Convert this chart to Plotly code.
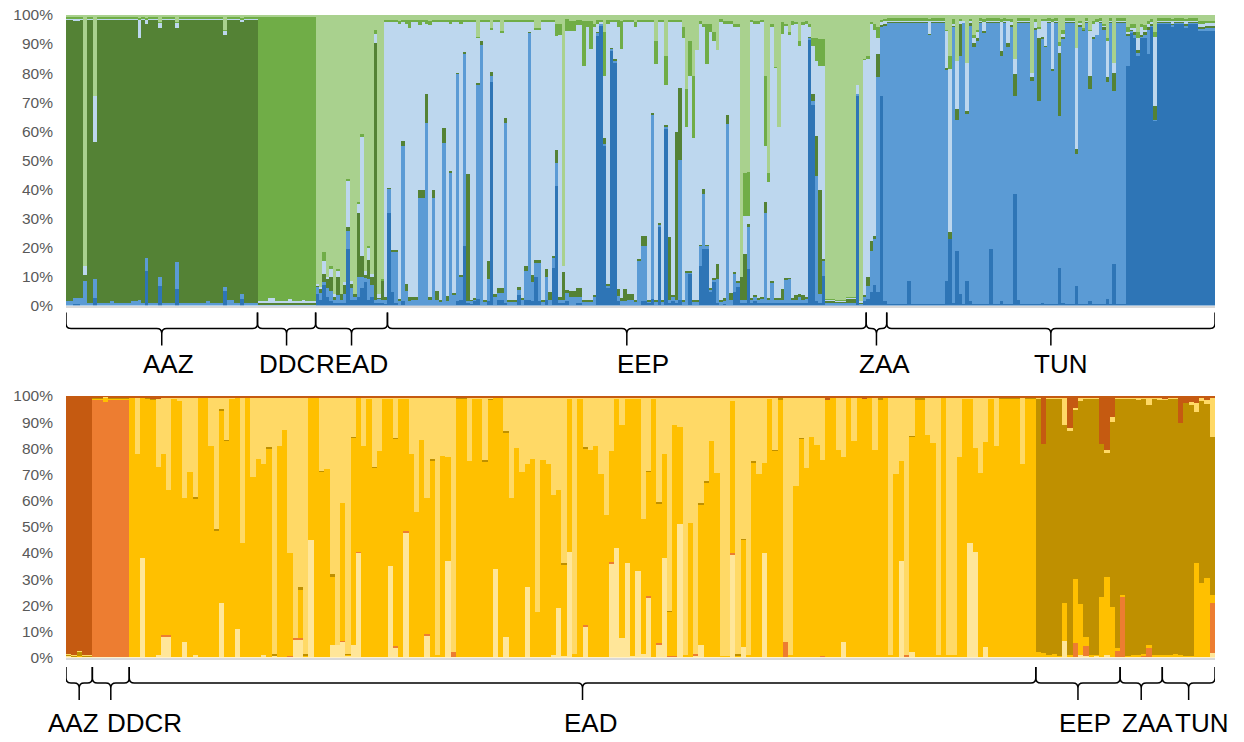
import plotly.graph_objects as go

W, H = 1244, 742
# The page is photographed with an 8 px top offset and ~726 px of usable height;
# vertical placements below are given in target screen pixels and converted with these.
Y_OFF, H_EFF = 8.0, 726.0

# ---------------- colours (bottom band -> top band) ----------------
TOP_COLORS = ["#2E75B6", "#5B9BD5", "#548235", "#BDD7EE", "#70AD47", "#A9D18E"]
BOTTOM_COLORS = ["#FFE699", "#ED7D31", "#FFC000", "#BF9000", "#FFD966", "#C55A11"]
TOP_NAMES = ["K1", "K2", "K3", "K4", "K5", "K6"]
BOTTOM_NAMES = ["K1", "K2", "K3", "K4", "K5", "K6"]

top_groups = ["AAZ", "DDC", "READ", "EEP", "ZAA", "TUN"]
bottom_groups = ["AAZ", "DDCR", "EAD", "EEP", "ZAA", "TUN"]

y_ticks = [0, 10, 20, 30, 40, 50, 60, 70, 80, 90, 100]
y_tick_text = ["0%", "10%", "20%", "30%", "40%", "50%", "60%", "70%", "80%", "90%", "100%"]

# Each row: [number of consecutive individuals, upper edge (%) of bands 1..5]; band 6 reaches 100 %.
# ---------------- top panel ----------------
top_AAZ = [
    [1, 0, 1.5, 98.3, 98.8, 99.3], [1, 0, 1.5, 98.3, 98.8, 99.3], [2, 0.5, 2.5, 98, 98.8, 99.3],
    [1, 0, 2.5, 98.3, 98.8, 99.3], [1, 0, 8.6, 10.5, 13.7, 13.7], [2, 0, 0.8, 98.3, 98.8, 99.3],
    [1, 2.5, 9, 56.4, 72.2, 72.2], [4, 0, 0.8, 98.3, 98.8, 99.3], [1, 0, 1.5, 98.3, 98.8, 99.3],
    [5, 0, 0.8, 98.3, 98.8, 99.3], [2, 0, 1.5, 98.3, 98.8, 99.3], [1, 0, 2, 92, 98.5, 99],
    [1, 0, 0.8, 98.3, 98.8, 99.3], [1, 12, 16.4, 97, 98.5, 99], [3, 0, 0.8, 98.3, 98.8, 99.3],
    [1, 6.9, 9.7, 95.6, 97.4, 97.6], [4, 0, 0.8, 98.3, 98.8, 99.3], [1, 5.7, 14.9, 95.6, 97.5, 97.7],
    [8, 0, 0.8, 98.3, 98.8, 99.3], [1, 0, 1.5, 98.3, 98.8, 99.3], [4, 0, 0.8, 98.3, 98.8, 99.3],
    [1, 5, 6.5, 93, 94.5, 94.7], [2, 0, 2, 98.3, 98.8, 99.3], [2, 0, 0.8, 98.3, 98.8, 99.3],
    [1, 2.3, 4, 97.5, 98.5, 99], [4, 0, 0.8, 98.3, 98.8, 99.3],
]
top_DDC = [
    [3, 0, 0.5, 0.8, 1.5, 99.3], [2, 0, 0.5, 0.8, 2.5, 99.5], [4, 0, 0.5, 0.8, 1.5, 99.3],
    [1, 0, 0.5, 1, 2.3, 99.2], [3, 0, 0.5, 0.8, 1.5, 99.4], [1, 0, 0.5, 0.8, 2, 99.3],
    [3, 0, 0.5, 0.8, 1.5, 99.3],
]
top_READ = [
    [1, 4, 6.5, 7, 7.5, 7.5], [1, 2, 4.5, 6, 6.5, 6.5], [1, 7, 8, 11, 15.5, 18.3],
    [1, 3, 6, 9, 10, 10], [1, 1.5, 5, 10, 12.5, 13.5], [1, 1, 2, 3, 4, 4],
    [1, 1, 3.5, 10, 12, 12.5], [1, 1, 2, 4, 4, 4], [1, 1, 4, 7, 8, 8],
    [1, 19.5, 25.8, 27, 43, 43.7], [1, 2, 6, 7.6, 8.5, 8.5], [1, 2, 3, 4, 4, 4],
    [1, 3, 10, 32, 35, 35.5], [1, 6, 10, 17, 58, 59], [1, 8, 9.5, 10.5, 12, 12],
    [1, 2, 9, 15.7, 20, 20.5], [1, 3, 7, 10, 11, 11], [1, 1, 2, 90.5, 93.5, 95],
    [1, 1, 2.3, 2.5, 4, 4], [1, 1, 2, 8.5, 8.5, 9.2], [1, 0.5, 2, 3, 97.5, 98.3],
]
top_EEP = [
    [1, 32, 40.3, 40.5, 97.5, 98.3], [1, 4.6, 18.6, 19, 97.5, 98.3], [1, 1, 18.6, 19.2, 97.5, 98.3],
    [1, 0.3, 1.5, 2.2, 97, 98], [1, 1.5, 55, 56.7, 97.5, 98.3], [1, 0.3, 5, 7.4, 97, 98.3],
    [1, 0.3, 1.5, 2.9, 95.5, 98.3], [2, 0.3, 2, 2.9, 97.5, 98.3], [1, 0.3, 37, 39.7, 96.5, 98.3],
    [1, 0.3, 37, 39.7, 97.5, 98.3], [1, 0.3, 63, 72.7, 97, 98.3], [1, 0.3, 2, 3, 96.5, 98],
    [1, 0.3, 37, 39.7, 97.5, 98.3], [1, 0.3, 2, 5, 97.5, 98.3], [1, 0.3, 1.5, 2, 97.5, 98.3],
    [1, 0.3, 56, 61, 97.5, 98.3], [1, 0.3, 1.5, 3.4, 97.5, 98.3], [1, 0.3, 45.8, 46.2, 97, 98.3],
    [1, 0.3, 3.5, 4.5, 97.5, 98.3], [1, 1.7, 79.8, 80.2, 97.5, 98.3], [1, 2, 10, 10.5, 97, 98.3],
    [1, 20.6, 86.5, 87.3, 97.5, 98.3], [1, 1, 1.7, 45.2, 97.5, 98.3], [1, 0.5, 1.7, 2, 97.5, 98.3],
    [1, 1.7, 2, 2.5, 97.5, 98.3], [1, 2.3, 76.2, 76.5, 92.2, 92.5], [1, 0.3, 89.6, 91, 97.5, 98.3],
    [1, 0.3, 1.5, 2, 97.5, 98.3], [1, 1.5, 9, 15.5, 97.5, 98.3], [1, 77, 79, 80.5, 94.8, 95.5],
    [1, 0.3, 3, 4, 97.5, 98.3], [1, 2, 4.5, 6, 97.5, 98.3], [1, 2, 4.5, 6, 94, 94.5],
    [1, 1, 63, 64.5, 97.5, 98.3], [3, 0.3, 1.5, 2, 97.5, 98.3], [1, 3.7, 5.5, 6.5, 97.5, 98.3],
    [1, 0.3, 2, 2.5, 97.5, 98.3], [1, 2, 11.8, 13.7, 97.5, 98.3], [1, 2, 94, 94.3, 97.5, 98.3],
    [1, 1.7, 8, 10.5, 97.5, 98.3], [1, 9.7, 14.5, 15.8, 95, 95.5], [1, 1.7, 14.5, 15.8, 95, 95.5],
    [1, 0.3, 1.5, 2, 97.5, 98.3], [1, 2, 9.7, 12.6, 97.5, 98.3], [1, 0.3, 2, 4.6, 97.5, 98.3],
    [1, 13, 16.6, 17, 97.5, 98.3], [1, 41.2, 49, 53.6, 92.8, 96.8], [1, 1, 2, 3, 93, 96.8],
    [1, 1, 2, 11.5, 13.7, 13.7], [1, 1.5, 4.6, 5.2, 94.5, 98.5], [2, 0.3, 3, 5, 94.5, 98],
    [2, 1, 3, 6, 96.5, 98.3], [1, 0.3, 1.5, 2, 82.5, 98], [1, 0.3, 1.5, 2, 96, 98],
    [1, 0.3, 1.5, 2, 88.2, 98], [1, 0.3, 3, 3.5, 96, 97], [1, 92.8, 94, 94.3, 97, 98.3],
    [1, 96.3, 97, 97.2, 97.5, 98.3], [1, 55, 55.5, 57.8, 79, 94], [1, 6, 7, 7.5, 97, 98.3],
    [1, 87.6, 88.4, 88.8, 97.5, 98.3], [1, 83.4, 84.5, 84.8, 97.5, 98.3], [1, 1.5, 3.4, 5.7, 96, 98.3],
    [1, 0.3, 1.5, 2.5, 88.4, 98], [1, 0.3, 1.5, 5.7, 97.5, 98.3], [2, 0.3, 2, 4, 97.5, 98.3],
    [1, 0.3, 1.5, 2, 96, 97.5], [1, 0.3, 15.5, 16, 97.5, 98.3], [2, 1.5, 20.6, 24, 97.5, 98.3],
    [1, 1, 1.5, 2, 97.5, 98.3], [1, 2.3, 65.9, 66.3, 97.5, 98.3], [1, 0.3, 1.5, 2, 83, 91],
    [1, 27, 28, 28.5, 97.5, 98.3], [1, 0.3, 1.5, 2, 97.5, 98.3], [1, 60.7, 61.5, 62, 76, 86],
    [1, 1, 2, 23.5, 97.5, 98.3], [1, 1.5, 3, 3.5, 97.5, 98.3], [1, 1, 2, 59.6, 97.5, 98.3],
    [1, 2, 50, 75, 97.5, 98.3],
    [1, 0.3, 1.5, 2, 92, 96], [1, 0.3, 11.5, 12, 61.3, 74.5], [1, 10.9, 11.5, 12, 79, 91],
    [1, 0.3, 1.5, 2, 57.8, 79], [1, 0.3, 1.5, 2, 88, 88], [1, 13.7, 20.6, 21, 97, 98],
    [1, 19.5, 38.4, 40, 96, 97], [1, 19.5, 20.6, 21, 83, 97], [1, 4.6, 5.5, 6, 94, 97],
    [1, 8, 9, 9.5, 91, 94], [1, 1, 9, 14.3, 88, 88], [1, 0.3, 1.5, 2, 97.5, 98.5],
    [1, 0.5, 1.5, 2.5, 97, 98],
    [1, 0.3, 62.4, 65.5, 97, 98], [1, 0.3, 2, 4.5, 97, 98], [1, 4.6, 10.9, 11.5, 96, 97],
    [1, 6.3, 8, 8.5, 96, 97], [1, 1, 2, 9.7, 9.7, 9.7], [1, 1, 2, 17.7, 30.9, 45.8],
    [1, 12.6, 27, 28, 30.9, 46], [1, 1, 2, 2.5, 97.5, 98.3], [1, 1.5, 3, 3.5, 97, 98],
    [1, 1, 2, 2.5, 97, 98], [1, 1, 2.5, 3, 97.5, 98.3], [1, 1, 32, 35.5, 55, 79],
    [1, 1, 2, 2.5, 42.4, 45.5], [1, 1, 8, 8.5, 96, 97], [1, 1, 2, 2.5, 81.9, 82],
    [1, 1, 2, 2.5, 61.3, 61.3], [1, 1, 2, 5.7, 93.4, 97.5], [1, 1, 9, 9.5, 96.5, 97],
    [1, 1, 9.2, 9.5, 93, 94], [1, 1, 2, 2.5, 96.5, 98], [1, 1, 2, 3.5, 97, 97.5],
    [1, 1, 3, 4, 89.5, 91], [1, 1, 2, 3.5, 96.5, 97.5], [1, 1, 2.5, 3, 97, 98],
    [1, 91.6, 92.2, 92.5, 96, 97],
    [1, 69, 70.5, 72.7, 89.3, 92.2], [1, 1.7, 44.7, 58.4, 84.2, 92.2], [1, 1, 3.9, 39.7, 82.5, 91.6],
    [1, 10.3, 15.5, 16, 82.5, 91.6], [3, 0.3, 0.8, 1.8, 2, 2.3], [3, 0.3, 1, 1.5, 1.8, 2],
    [3, 0.3, 0.8, 2.5, 2.8, 3], [1, 72, 72.7, 72.7, 76, 76], [1, 0.3, 0.8, 1.2, 1.5, 1.5],
    [1, 1.7, 3, 3.5, 84.8, 85],
]
top_ZAA = [
    [1, 2.3, 6.9, 9.7, 84.8, 86], [1, 4.6, 18.9, 22.3, 96.8, 97.5], [1, 7.1, 22.9, 24, 95, 97],
    [1, 4.8, 78.5, 86.5, 92, 96], [1, 72, 96, 96.5, 97.5, 98.3], [1, 1.7, 96.5, 97, 97.8, 98.5],
]
top_TUN = [
    [6, 0.5, 97.3, 97.7, 98.2, 98.8], [1, 8.6, 97.3, 97.7, 98.2, 98.8], [5, 0.5, 97.3, 97.7, 98.2, 98.8],
    [1, 0.5, 93.4, 93.5, 98, 98.5], [4, 0.5, 97.3, 97.7, 98.2, 98.8], [1, 8.6, 81.3, 81.8, 94.5, 94.7],
    [1, 22.9, 22.9, 25.2, 81.3, 85.9], [1, 0.8, 96, 96.5, 97, 98.5], [1, 18.9, 64, 67.6, 84.2, 84.2],
    [1, 4, 85.9, 96.8, 97.8, 98.5], [1, 0.5, 97.3, 97.5, 97.8, 97.8], [1, 8.6, 65.9, 67, 83.4, 83.4],
    [1, 1.7, 96.2, 97.3, 97.8, 98.5], [1, 0.5, 89, 90.5, 92, 93], [1, 0.5, 91, 92, 94, 95],
    [1, 0.5, 97.3, 97.7, 98.2, 98.8], [1, 0.5, 94, 94.5, 97.5, 98.5], [1, 0.5, 97.3, 97.7, 98.2, 98.8],
    [1, 19.5, 97.3, 97.7, 98.2, 98.8], [2, 0.5, 97.3, 97.7, 98.2, 98.8], [1, 1.7, 85.9, 87.6, 97.9, 98.5],
    [1, 0.5, 97.3, 97.7, 98.2, 98.8], [1, 0.5, 89, 90.5, 97.8, 98.5], [1, 0.5, 96, 96.5, 97.5, 98.5],
    [1, 38.4, 72.2, 79.6, 84.8, 84.8], [1, 2, 97.3, 97.7, 98.2, 98.8], [3, 0.5, 97.3, 97.7, 98.2, 98.8],
    [1, 0.5, 77.3, 78.5, 80.2, 80.2], [1, 0.5, 95, 95.5, 97.5, 98.5], [1, 0.5, 70.5, 92.2, 95.5, 96],
    [1, 1, 92, 92.5, 98, 98.5], [1, 0.5, 89, 89.5, 98, 98.5], [1, 0.5, 97.3, 97.7, 98.2, 98.8],
    [1, 0.5, 81, 81.5, 97.5, 98.5], [1, 0.5, 97.3, 97.7, 98.2, 98.8], [1, 13, 65.3, 87, 89.3, 90.8],
    [1, 1, 92, 92.5, 93.5, 95], [3, 0.5, 97.3, 97.7, 98.2, 98.8], [1, 6.9, 52, 53.8, 88.8, 88.8],
    [1, 0.5, 96, 96.5, 97.5, 97.8], [1, 0.5, 94.7, 95, 95, 95.5], [1, 0.5, 97.3, 97.7, 98.2, 98.8],
    [1, 1.7, 74.5, 79, 94.5, 95], [1, 0.5, 92, 92.5, 97, 98], [1, 0.5, 93, 93, 97.5, 98.5],
    [1, 0.5, 97.3, 97.7, 98.2, 98.8], [1, 0.5, 95, 96, 96.5, 97], [1, 2.3, 77, 78.5, 91, 92],
    [1, 0.5, 97.3, 97.7, 98.2, 98.8], [1, 14.3, 73.9, 80.2, 83.6, 83.6], [3, 0.5, 97.3, 97.7, 98.2, 98.8],
    [1, 82.5, 93, 93.5, 94, 96], [1, 94, 94.5, 95, 95.5, 97], [1, 92, 93, 94, 95.5, 97],
    [1, 86, 87, 88, 92.2, 94], [1, 92.2, 92.5, 93, 96, 97], [1, 92, 93, 94, 95, 96.5],
    [1, 86.5, 95, 96, 97, 98], [1, 96, 96.5, 97, 97.5, 98.5], [1, 63.6, 63.8, 68.7, 92.4, 94],
    [4, 97, 97.3, 97.6, 98, 98.8], [1, 96, 96.8, 97.2, 97.8, 98.5], [3, 97, 97.3, 97.6, 98, 98.8],
    [1, 95.5, 96.5, 97, 97.8, 98.5], [3, 97, 97.3, 97.6, 98, 98.8], [2, 94.5, 95.5, 96, 97, 97.8],
    [3, 94.5, 95.5, 96.3, 97.3, 98],
]

# ---------------- bottom panel ----------------
bot_AAZ = [
    [1, 0.8, 0.8, 1, 1.2, 1.4], [1, 0.3, 0.3, 0.5, 0.8, 1], [1, 0.5, 0.5, 0.6, 2.2, 2.4],
    [1, 0.3, 0.3, 0.5, 0.8, 1], [1, 0.3, 0.3, 0.5, 0.7, 0.9],
]
bot_DDCR = [
    [2, 0.2, 98.5, 99, 99.3, 99.6], [1, 0.2, 97.8, 99.3, 99.5, 99.7],
    [2, 0.2, 98.7, 99.2, 99.4, 99.6], [2, 0.2, 98.5, 99, 99.3, 99.6],
]
bot_EAD = [
    [1, 0.3, 0.3, 99.3, 99.3, 99.6], [1, 0.3, 0.3, 78, 78, 99.6], [1, 38, 38, 99.3, 99.3, 99.6],
    [1, 0.3, 0.3, 99, 99.3, 99.6], [1, 0.3, 0.3, 98.5, 98.8, 98.8], [1, 1, 1, 73, 73, 98.8],
    [1, 8, 8.5, 78, 78, 99.6], [1, 8, 8.5, 64, 64, 99.6], [1, 0.3, 0.3, 99, 99, 99.6],
    [1, 0.3, 0.3, 98, 98, 99.6], [1, 6, 6, 61, 61, 99.6], [1, 0.3, 0.3, 71, 71, 99.6],
    [1, 1, 1, 61, 61.5, 99.6], [2, 0.3, 0.3, 99.3, 99.3, 99.6], [1, 0.3, 0.3, 81, 81, 99.6],
    [1, 0.3, 0.3, 48.5, 49, 99.6], [1, 21, 21, 94.5, 95, 99.6], [1, 0.3, 0.3, 83, 83.3, 99.6],
    [1, 0.3, 0.3, 99, 99, 99.6], [1, 11, 11, 99.3, 99.3, 99.6], [1, 0.3, 0.3, 44, 44, 99.6],
    [1, 0.3, 0.3, 99.3, 99.3, 99.6], [1, 0.3, 0.3, 69, 69, 99.6], [1, 0.3, 0.3, 76, 76, 99.6],
    [1, 1, 1, 74, 74, 99.6], [1, 0.3, 0.3, 80, 80.5, 99.6], [1, 1, 1, 1, 1.3, 99.6],
    [1, 0.3, 0.3, 81, 81, 99.6], [1, 0.3, 0.3, 87, 87, 99.6], [1, 0.3, 0.5, 40, 40, 99.6],
    [1, 7, 7.5, 7.5, 7.5, 99.6], [1, 7, 7.5, 26, 27, 99.6], [1, 0.3, 0.3, 1, 1.3, 99.6],
    [1, 45, 45, 99.3, 99.3, 99.6], [1, 0.3, 0.3, 99.3, 99.3, 99.6], [1, 0.3, 0.3, 71, 71.5, 99.6],
    [1, 0.3, 0.3, 72, 72, 99.6], [1, 5, 5, 31, 32, 99.6], [1, 5, 5, 5, 5, 99.6],
    [1, 6, 6.5, 59, 59, 99.6], [1, 1, 1, 1.3, 1.5, 99.6], [1, 5, 5, 84, 84.5, 99.6],
    [1, 40, 40.5, 99.3, 99.3, 99.6],
    [1, 0.3, 0.3, 81, 81, 99.6], [1, 0.3, 0.3, 99, 99, 99.6], [1, 0.3, 0.3, 72.6, 73, 99.6],
    [1, 0.3, 0.3, 79, 79, 99.6], [1, 0.3, 0.3, 99, 99, 99.6], [1, 35, 35, 99, 99, 99.6],
    [1, 4, 4.5, 83.7, 84, 99.6], [1, 0.3, 0.3, 99, 99, 99.6], [1, 48, 48.5, 99, 99, 99.6],
    [1, 0.3, 0.3, 77.7, 77.7, 99.6], [1, 0.3, 0.3, 55.5, 55.5, 99.6], [1, 0.3, 0.3, 83, 83, 99.6],
    [1, 8.5, 9, 61, 61, 99.6], [1, 0.3, 0.3, 75.5, 76, 99.6], [1, 0.3, 0.3, 1, 1, 99.6],
    [1, 0.3, 0.3, 77, 77, 99.6], [1, 37, 37, 76.5, 76.5, 99.6], [1, 0.3, 2, 2, 2, 99.6],
    [2, 0.3, 0.3, 99, 99.3, 99.6], [1, 0.3, 0.3, 75, 75, 99.6], [2, 0.3, 0.3, 99, 99, 99.6],
    [1, 0.3, 0.3, 75, 75.5, 99.6], [1, 0.3, 0.3, 98.5, 99, 99.6], [1, 34, 34, 99.3, 99.3, 99.6],
    [1, 0.3, 0.3, 99.3, 99.3, 99.6], [1, 8, 8, 86, 86.6, 99.6], [1, 0.3, 0.3, 61, 61, 99.6],
    [1, 0.3, 0.3, 80, 80, 99.6], [1, 0.3, 0.3, 71, 71, 99.6], [1, 27, 27, 74, 74, 99.6],
    [1, 0.3, 0.3, 76, 76, 99.6], [1, 0.3, 0.3, 17.5, 17.5, 99.6], [1, 0.3, 0.3, 75.7, 75.7, 99.6],
    [1, 0.3, 0.3, 74, 74, 99.6], [1, 1, 1, 62, 62, 99.6], [1, 19, 19, 64, 64, 99.6],
    [1, 0.5, 0.5, 35.6, 36, 99.6], [1, 40.5, 40.5, 99, 99, 99.6], [1, 0.3, 0.3, 1.3, 1.3, 99.6],
    [1, 0.3, 0.3, 99, 99, 99.6], [1, 12, 12.5, 80, 80.5, 99.6], [1, 0.3, 0.3, 79.5, 79.5, 99.6],
    [1, 0.3, 0.3, 81, 81, 99.6], [1, 0.3, 0.3, 70, 70, 99.6], [1, 0.3, 0.3, 54.5, 54.5, 99.6],
    [1, 36, 36.5, 79, 79, 99.6], [1, 42, 42, 99, 99, 99.6], [1, 7.5, 7.5, 89, 89, 99.6],
    [1, 36, 36, 99, 99, 99.6], [1, 0.5, 0.5, 99, 99, 99.6], [1, 33, 33, 99, 99, 99.6],
    [1, 1.5, 1.5, 52.8, 52.8, 99.6], [1, 23, 23.5, 71, 71.5, 99.6],
    [1, 0.3, 0.3, 99, 99, 99.6], [1, 5, 5.5, 59, 59.5, 99.6], [1, 38, 38, 78, 78, 99.6],
    [1, 0.3, 0.5, 17.5, 18, 99.6], [1, 0.3, 0.5, 89, 89, 99.6], [1, 51, 51, 88, 88, 99.6],
    [1, 0.3, 0.3, 1, 1, 99.6], [1, 0.3, 0.3, 51.5, 51.5, 99.6], [1, 1, 1.5, 1.5, 1.5, 99.6],
    [1, 5, 5, 58.7, 59, 99.6], [1, 0.3, 0.3, 67, 67.5, 99.6], [1, 0.3, 0.3, 82.7, 82.7, 99.6],
    [1, 0.3, 0.3, 70.7, 70.7, 99.6], [2, 0.3, 0.3, 0.5, 0.5, 99.6], [1, 39.5, 40, 98, 98, 99.6],
    [1, 0.3, 0.3, 1, 1.3, 99.6], [1, 4, 4, 45, 45.5, 99.6], [1, 0.3, 0.3, 1, 1, 99.6],
    [1, 0.3, 0.3, 74.5, 75, 99.6], [1, 0.3, 0.3, 70, 70, 99.6], [1, 40, 40, 74.5, 74.5, 99.6],
    [1, 0.3, 0.3, 99, 99, 99.6], [1, 0.3, 0.3, 79, 79.5, 99.6], [1, 0.3, 0.3, 98.5, 99.3, 99.6],
    [1, 0.3, 6, 6, 6, 99.6], [1, 0.3, 0.3, 1, 1, 99.6], [1, 0.3, 0.3, 65.5, 65.5, 99.6],
    [1, 0.3, 0.3, 83.7, 84, 99.6], [1, 0.3, 0.3, 72.5, 72.5, 99.6], [1, 0.3, 0.3, 84.4, 84.4, 99.6],
    [1, 0.3, 0.3, 81.4, 81.4, 99.6], [1, 0.3, 0.8, 75.4, 75.4, 99.6], [1, 0.3, 0.3, 98.5, 98.5, 98.5],
    [1, 0.3, 0.3, 99.3, 99.3, 99.6], [1, 0.3, 0.3, 79.3, 79.3, 99.6], [1, 6, 6, 76.5, 76.5, 99.6],
    [1, 0.3, 0.3, 99.3, 99.3, 99.6], [1, 0.3, 0.3, 82.7, 82.7, 99.6], [1, 0.3, 0.3, 99.3, 99.3, 99.6],
    [1, 0.3, 0.3, 98.8, 98.8, 98.8], [1, 0.3, 0.3, 99.3, 99.3, 99.6], [1, 0.3, 0.3, 79.3, 79.3, 99.6],
    [1, 0.3, 0.3, 98.8, 99.3, 99.6], [1, 0.3, 0.3, 99.3, 99.3, 99.6], [1, 0.3, 0.3, 1, 1, 99.6],
    [1, 0.3, 0.3, 70, 70, 99.6], [1, 37, 37, 75.2, 75.2, 99.6], [1, 0.3, 1, 1, 1, 99.6],
    [1, 2, 2, 84.4, 84.7, 99.6], [2, 0.3, 0.3, 98.5, 99.3, 99.6], [1, 0.3, 0.3, 85, 85, 99.6],
    [1, 0.3, 0.3, 82, 82, 99.6], [1, 0.3, 0.3, 1, 1, 99.6],
    [1, 0.3, 0.3, 99.3, 99.3, 99.6], [2, 0.5, 0.5, 1, 1, 99.6], [1, 0.3, 0.3, 76.7, 76.7, 99.6],
    [1, 0.3, 0.3, 99, 99, 99.6], [1, 44, 44, 99, 99, 99.6], [1, 40.5, 40.5, 80, 80, 99.6],
    [1, 0.3, 0.3, 70.6, 70.6, 99.6], [1, 4, 4, 82.4, 82.4, 99.6], [1, 0.3, 0.3, 99, 99, 99.6],
    [1, 0.3, 0.3, 81, 81, 99.6], [4, 0.3, 0.3, 99, 99.3, 99.6], [1, 0.3, 0.3, 74, 74, 99.6],
    [2, 0.3, 0.3, 99, 99.3, 99.6],
]
bot_EEP = [
    [1, 0.3, 0.3, 2, 99, 99.3], [1, 0.3, 0.3, 1.7, 81.8, 81.8], [1, 0.5, 0.5, 1, 99, 99.3],
    [1, 0.3, 0.3, 1.5, 99, 99.3], [1, 0.3, 0.3, 0.8, 99, 99.3], [1, 6.5, 6.5, 21, 88.8, 99.3],
    [1, 0.3, 0.3, 1, 86.5, 87.8], [1, 0.3, 5.5, 30, 95, 95.5], [1, 1, 1, 20.6, 98, 99.3],
    [1, 0.5, 4.5, 8, 99, 99.3], [1, 0.3, 0.3, 1, 99, 99.3], [1, 0.8, 0.8, 1.2, 99, 99.3],
    [1, 0.3, 0.3, 23, 81.8, 81.8], [1, 1, 1, 31, 78.5, 79.2], [1, 0.3, 0.3, 19.5, 90, 92],
    [1, 0.3, 2.5, 3.5, 99, 99.3],
]
bot_ZAA = [
    [1, 0.3, 23, 24, 99, 99.3], [1, 0.3, 0.3, 0.8, 99, 99.5], [1, 0.3, 0.3, 1, 99, 99.6],
    [1, 0.3, 0.3, 1, 98.5, 99.6], [1, 0.3, 0.5, 1.5, 99, 99.6], [1, 0.3, 3.8, 4.8, 96.4, 99.2],
    [1, 0.3, 0.3, 1, 99, 99.6], [1, 0.3, 0.3, 1, 98.5, 99.4],
]
bot_TUN = [
    [1, 0.3, 0.3, 1, 98.5, 98.8], [1, 0.3, 0.3, 1, 99, 99.6], [1, 0.3, 0.3, 1.5, 99, 99.5],
    [1, 0.3, 0.3, 1, 89.7, 89.7], [1, 0.3, 0.3, 0.8, 97.5, 97.5], [1, 0.3, 0.3, 0.8, 96.7, 97.7],
    [1, 0.3, 0.3, 36, 94, 97.5], [1, 0.3, 0.3, 28.6, 98, 99.3], [1, 0.3, 0.3, 30.3, 97, 98.5],
    [1, 1.7, 20.7, 24, 84.4, 99.3],
]

# label centres (pixels) for the group names
top_label_px = [168, 287, 352, 643, 884.5, 1060]
bottom_label_px = [73, 144.5, 590, 1085, 1147, 1201]


def expand(group_runs):
    shares = [[] for _ in range(6)]
    sizes = []
    for runs in group_runs:
        n_group = 0
        for row in runs:
            n = row[0]
            edges = [0.0]
            for e in row[1:]:
                edges.append(max(float(e), edges[-1]))
            edges.append(100.0)
            vals = [edges[i + 1] - edges[i] for i in range(6)]
            for _ in range(n):
                for k in range(6):
                    shares[k].append(vals[k])
            n_group += n
        sizes.append(n_group)
    return shares, sizes


top_shares, top_sizes = expand([top_AAZ, top_DDC, top_READ, top_EEP, top_ZAA, top_TUN])
bot_shares, bot_sizes = expand([bot_AAZ, bot_DDCR, bot_EAD, bot_EEP, bot_ZAA, bot_TUN])
N_top = sum(top_sizes)
N_bot = sum(bot_sizes)

# ---------------- layout geometry (target screen pixels) ----------------
X0, X1 = 66, 1215
TOP_Y = (14, 305)
BOT_Y = (395.5, 657.5)


def px_x(p):
    return p / W


def px_y(p):
    return 1.0 - (p - Y_OFF) / H_EFF


fig = go.Figure()
for k in range(6):
    fig.add_trace(go.Bar(x=list(range(N_top)), y=top_shares[k], name=TOP_NAMES[k],
                         marker=dict(color=TOP_COLORS[k], line=dict(width=0)),
                         xaxis="x", yaxis="y", showlegend=False, hoverinfo="skip"))
for k in range(6):
    fig.add_trace(go.Bar(x=list(range(N_bot)), y=bot_shares[k], name=BOTTOM_NAMES[k],
                         marker=dict(color=BOTTOM_COLORS[k], line=dict(width=0)),
                         xaxis="x2", yaxis="y2", showlegend=False, hoverinfo="skip"))

tick_font = dict(family="Liberation Sans, Arial, sans-serif", size=15.5, color="#595959")
yax = dict(range=[0, 100], tickvals=y_ticks, ticktext=y_tick_text, tickfont=tick_font,
           showgrid=True, gridcolor="#D9D9D9", gridwidth=1, zeroline=False,
           ticks="", ticklabelstandoff=12, showline=False, fixedrange=True)
xax = dict(showticklabels=False, showgrid=False, zeroline=False, ticks="",
           showline=True, linecolor="#D9D9D9", linewidth=1.5, fixedrange=True)

fig.update_layout(
    width=W, height=H, autosize=False,
    margin=dict(l=0, r=0, t=0, b=0),
    paper_bgcolor="white", plot_bgcolor="white",
    barmode="stack", bargap=0,
    xaxis=dict(xax, domain=[px_x(X0), px_x(X1)], range=[-0.5, N_top - 0.5], anchor="y"),
    yaxis=dict(yax, domain=[px_y(TOP_Y[1]), px_y(TOP_Y[0])], anchor="x"),
    xaxis2=dict(xax, domain=[px_x(X0), px_x(X1)], range=[-0.5, N_bot - 0.5], anchor="y2"),
    yaxis2=dict(yax, domain=[px_y(BOT_Y[1]), px_y(BOT_Y[0])], anchor="x2"),
)


def brace_path(xa, xb, y_top, y_mid, y_tip, rx, ry):
    xc = (xa + xb) / 2.0
    rx = min(rx, (xb - xa) / 4.0)
    return (f"M {xa},{y_top} L {xa},{y_mid + ry} Q {xa},{y_mid} {xa + rx},{y_mid} "
            f"L {xc - rx},{y_mid} Q {xc},{y_mid} {xc},{y_mid - ry} L {xc},{y_tip} "
            f"M {xc},{y_mid - ry} Q {xc},{y_mid} {xc + rx},{y_mid} L {xb - rx},{y_mid} "
            f"Q {xb},{y_mid} {xb},{y_mid + ry} L {xb},{y_top}")


shapes = []

# light-grey frame line along the 100 % edge of each panel (visible just above the bars)
for xr, yr, n in (("x", "y", N_top), ("x2", "y2", N_bot)):
    shapes.append(dict(type="line", xref=xr, yref=yr, x0=-0.5, x1=n - 0.5, y0=100, y1=100,
                       line=dict(color="#D9D9D9", width=3), layer="below"))


def add_braces(sizes, n_total, xref, y_top_px, y_mid_px, y_tip_px):
    bar_px = (X1 - X0) / n_total
    rx = 5.0 / bar_px
    ry = 5.0 / H_EFF
    start = -0.5
    for s in sizes:
        xa, xb = start, start + s
        shapes.append(dict(type="path", xref=xref, yref="paper",
                           path=brace_path(xa, xb, px_y(y_top_px), px_y(y_mid_px), px_y(y_tip_px), rx, ry),
                           line=dict(color="black", width=1.5)))
        start = xb


add_braces(top_sizes, N_top, "x", 312, 328, 345)
add_braces(bot_sizes, N_bot, "x2", 667, 683, 700)

annotations = []
label_font = dict(family="Liberation Sans, Arial, sans-serif", size=26, color="black")
for name, cx in zip(top_groups, top_label_px):
    annotations.append(dict(text=name, x=px_x(cx), y=px_y(363), xref="paper", yref="paper",
                            xanchor="center", yanchor="middle", showarrow=False, font=label_font))
for name, cx in zip(bottom_groups, bottom_label_px):
    annotations.append(dict(text=name, x=px_x(cx), y=px_y(723), xref="paper", yref="paper",
                            xanchor="center", yanchor="middle", showarrow=False, font=label_font))

fig.update_layout(shapes=shapes, annotations=annotations)
fig.write_html("out.html")
